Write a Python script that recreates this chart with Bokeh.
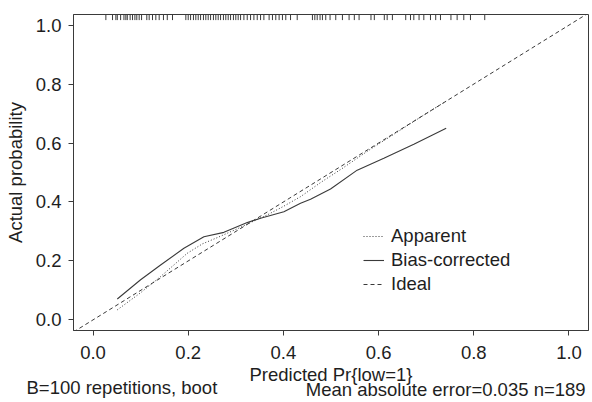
from bokeh.plotting import figure
from bokeh.models import (FixedTicker, PrintfTickFormatter, Legend, LegendItem,
                          Range1d, LinearAxis)
from bokeh.embed import file_html
from bokeh.resources import INLINE

# ---------------- data ----------------
x_ticks = [0.0, 0.2, 0.4, 0.6, 0.8, 1.0]
y_ticks = [0.0, 0.2, 0.4, 0.6, 0.8, 1.0]

apparent_x = [0.051, 0.100, 0.142, 0.198, 0.230, 0.261, 0.310, 0.340, 0.366,
              0.400, 0.436, 0.480, 0.522, 0.580, 0.640, 0.700, 0.745]
apparent_y = [0.034, 0.092, 0.147, 0.226, 0.258, 0.279, 0.314, 0.337, 0.356,
              0.385, 0.418, 0.468, 0.512, 0.576, 0.638, 0.700, 0.745]

bias_x = [0.051, 0.100, 0.142, 0.191, 0.233, 0.275, 0.324, 0.352, 0.401,
          0.436, 0.457, 0.499, 0.555, 0.611, 0.674, 0.742]
bias_y = [0.071, 0.136, 0.186, 0.243, 0.282, 0.297, 0.330, 0.345, 0.367,
          0.396, 0.409, 0.444, 0.508, 0.548, 0.596, 0.650]

rug_x = [0.027, 0.041, 0.048, 0.051, 0.058, 0.065, 0.069, 0.072, 0.078, 0.083,
         0.088, 0.092, 0.097, 0.102, 0.113, 0.118, 0.125, 0.132, 0.139, 0.148,
         0.156, 0.167, 0.195, 0.200, 0.205, 0.211, 0.216, 0.221, 0.226, 0.232,
         0.237, 0.242, 0.247, 0.253, 0.258, 0.263, 0.268, 0.274, 0.279, 0.284,
         0.289, 0.295, 0.300, 0.305, 0.310, 0.317, 0.324, 0.331, 0.338, 0.345,
         0.352, 0.359, 0.370, 0.377, 0.384, 0.391, 0.398, 0.405, 0.415, 0.429,
         0.461, 0.466, 0.471, 0.477, 0.482, 0.489, 0.498, 0.510, 0.524, 0.538,
         0.549, 0.559, 0.584, 0.591, 0.612, 0.618, 0.629, 0.657, 0.667, 0.674,
         0.685, 0.695, 0.709, 0.720, 0.730, 0.752, 0.765, 0.779, 0.793, 0.823]

x_lim = [-0.041, 1.041]
y_lim = [-0.036, 1.036]

x_title = "Predicted Pr{low=1}"
y_title = "Actual probability"
sub_left = "B=100 repetitions, boot"
sub_right = "Mean absolute error=0.035 n=189"

# ---------------- style ----------------
FONT = "Liberation Sans"
FS = "18.5px"
TXT = "#1e1e1e"
LN = "#3a3a3a"

W, H = 592, 402
FL, FR, FT, FB = 73, 588, 14, 331   # frame edges in pixels

p = figure(width=W, height=H, output_backend="svg", toolbar_location=None,
           x_range=Range1d(*x_lim), y_range=Range1d(*y_lim),
           min_border_left=FL, min_border_right=W - FR,
           min_border_top=FT, min_border_bottom=H - FB)
p.grid.visible = False
p.outline_line_color = LN
p.outline_line_width = 1
p.background_fill_color = "white"
p.border_fill_color = "white"


def style_axis(ax):
    ax.major_tick_out = 5
    ax.major_tick_in = 0
    ax.minor_tick_line_color = None
    ax.major_tick_line_color = LN
    ax.axis_line_color = LN
    ax.major_label_text_font = FONT
    ax.major_label_text_font_size = FS
    ax.major_label_text_color = TXT
    ax.axis_label_text_font = FONT
    ax.axis_label_text_font_size = FS
    ax.axis_label_text_color = TXT
    ax.axis_label_text_font_style = "normal"


for ax in (p.xaxis[0], p.yaxis[0]):
    style_axis(ax)
    ax.formatter = PrintfTickFormatter(format="%.1f")

p.xaxis[0].ticker = FixedTicker(ticks=x_ticks)
p.yaxis[0].ticker = FixedTicker(ticks=y_ticks)
p.xaxis[0].major_label_standoff = 10
p.yaxis[0].major_label_standoff = 7
p.xaxis[0].axis_label = x_title
p.xaxis[0].axis_label_standoff = 2
p.yaxis[0].axis_label = y_title
p.yaxis[0].axis_label_standoff = 7

# ideal line across the whole frame
r_ideal = p.line(x_lim, x_lim, line_color=LN, line_width=1, line_dash="4 3")
r_app = p.line(apparent_x, apparent_y, line_color=LN, line_width=1, line_dash="1 2")
r_bias = p.line(bias_x, bias_y, line_color=LN, line_width=1.1)

# rug on top
rug_len = 0.019
p.segment(x0=rug_x, x1=rug_x, y0=[y_lim[1]] * len(rug_x),
          y1=[y_lim[1] - rug_len] * len(rug_x), line_color=LN, line_width=1)

legend = Legend(items=[LegendItem(label="Apparent", renderers=[r_app]),
                       LegendItem(label="Bias-corrected", renderers=[r_bias]),
                       LegendItem(label="Ideal", renderers=[r_ideal])],
                location=(290, 35), padding=0, margin=0, spacing=2,
                glyph_width=21, glyph_height=18, label_standoff=7,
                border_line_color=None, background_fill_alpha=0,
                label_text_font=FONT, label_text_font_size=FS,
                label_text_color=TXT)
p.add_layout(legend)

# ---------------- subtitles: label-only axes below the x axis ----------------
sx = (FR - FL) / (x_lim[1] - x_lim[0])


def dx(px):
    return x_lim[0] + (px - FL) / sx


def text_axis(center_px, text, standoff):
    t = round(dx(center_px), 4)
    ax = LinearAxis(ticker=FixedTicker(ticks=[t]),
                    major_label_overrides={t: text})
    style_axis(ax)
    ax.major_tick_out = 0
    ax.major_tick_line_color = None
    ax.axis_line_color = None
    ax.major_label_standoff = standoff
    p.add_layout(ax, "below")


text_axis(121.4, sub_left, -11)
text_axis(445.2, sub_right, -22)

open("out.html", "w").write(file_html(p, INLINE))
